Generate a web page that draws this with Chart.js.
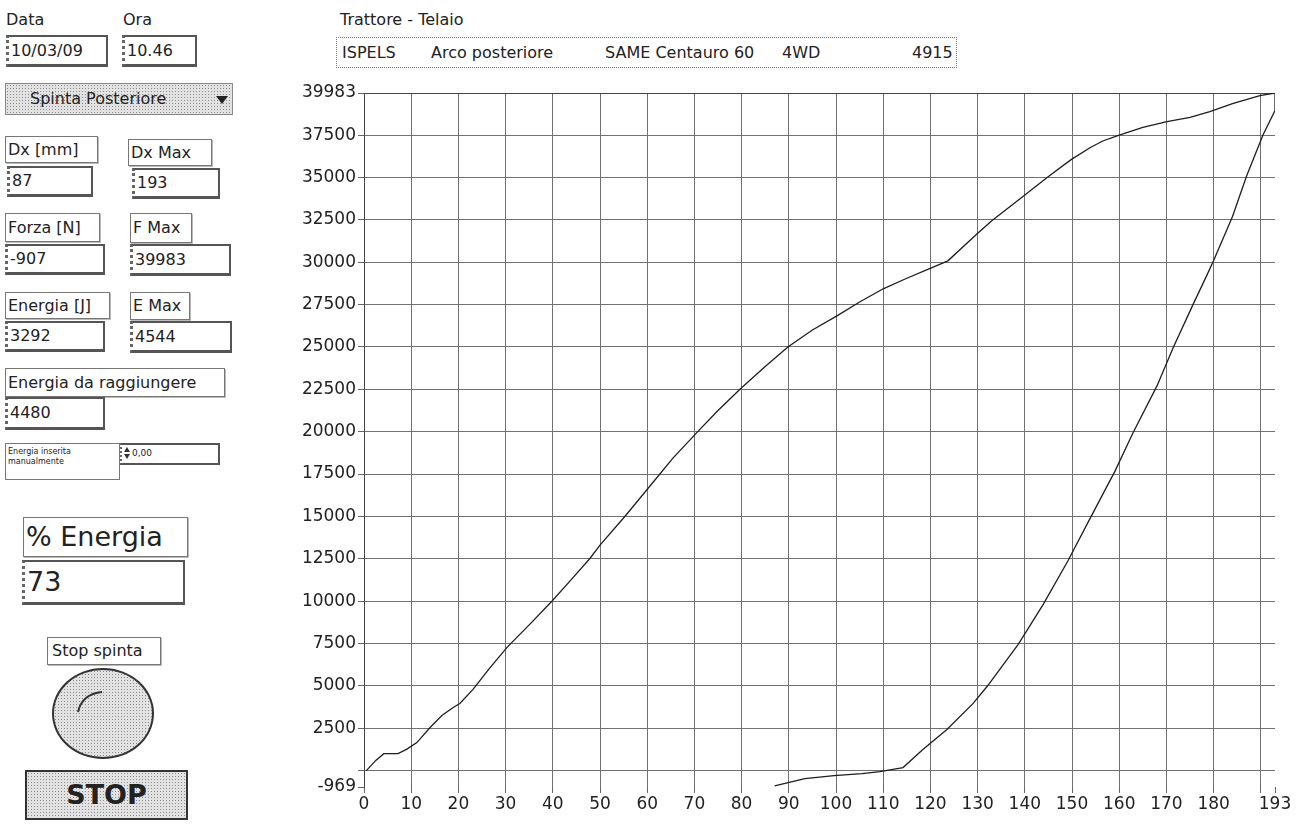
<!DOCTYPE html>
<html>
<head>
<meta charset="utf-8">
<script src="https://cdn.jsdelivr.net/npm/chart.js@4/dist/chart.umd.min.js"></script>
<style>
  body { margin: 0; background: #fff; width: 1305px; height: 824px; overflow: hidden; position: relative;
         font-family: 'DejaVu Sans', Verdana, sans-serif; color: #222; }
  .abs { position: absolute; box-sizing: border-box; white-space: nowrap; }
  .txt { font-size: 16px; }
  .lbl { border: 1px solid #777; background: #fff; font-size: 16px; padding-left: 2px; box-shadow: 1px 1px 0 #bbb; }
  .val { border: 2px solid #555; border-left: 3px dotted #666; border-bottom: 3px solid #555; background: #fff;
         font-size: 16px; padding-left: 2px; }
  .stip { background-color: #e2e2e2;
          background-image: radial-gradient(#8a8a8a 0.7px, transparent 0.9px);
          background-size: 3px 3px; }
  #chartBox { position: absolute; left: 280px; top: 80px; width: 1025px; height: 744px; }
</style>
</head>
<body>

<!-- left panel -->
<div class="abs txt" style="left:6px;top:10px;">Data</div>
<div class="abs txt" style="left:123px;top:10px;">Ora</div>
<div class="abs val" style="left:6px;top:35px;width:102px;height:32px;line-height:27px;">10/03/09</div>
<div class="abs val" style="left:122px;top:35px;width:75px;height:32px;line-height:27px;">10.46</div>

<div class="abs stip" style="left:5px;top:83px;width:228px;height:32px;border:1px solid #888;font-size:16px;line-height:30px;padding-left:24px;">Spinta Posteriore</div>
<div class="abs" style="left:216px;top:96px;width:0;height:0;border-left:6px solid transparent;border-right:6px solid transparent;border-top:8px solid #222;"></div>

<div class="abs lbl" style="left:5px;top:136px;width:93px;height:27px;line-height:25px;">Dx [mm]</div>
<div class="abs lbl" style="left:128px;top:139px;width:84px;height:27px;line-height:25px;">Dx Max</div>
<div class="abs val" style="left:7px;top:166px;width:86px;height:31px;line-height:26px;">87</div>
<div class="abs val" style="left:132px;top:168px;width:88px;height:31px;line-height:26px;">193</div>

<div class="abs lbl" style="left:5px;top:213px;width:95px;height:29px;line-height:27px;">Forza [N]</div>
<div class="abs lbl" style="left:130px;top:213px;width:62px;height:30px;line-height:28px;">F Max</div>
<div class="abs val" style="left:5px;top:244px;width:100px;height:31px;line-height:26px;">-907</div>
<div class="abs val" style="left:130px;top:244px;width:101px;height:32px;line-height:27px;">39983</div>

<div class="abs lbl" style="left:5px;top:292px;width:105px;height:27px;line-height:25px;">Energia [J]</div>
<div class="abs lbl" style="left:130px;top:292px;width:60px;height:28px;line-height:26px;">E Max</div>
<div class="abs val" style="left:5px;top:321px;width:100px;height:31px;line-height:26px;">3292</div>
<div class="abs val" style="left:130px;top:321px;width:102px;height:32px;line-height:27px;">4544</div>

<div class="abs lbl" style="left:5px;top:368px;width:220px;height:29px;line-height:27px;">Energia da raggiungere</div>
<div class="abs val" style="left:5px;top:397px;width:100px;height:33px;line-height:28px;">4480</div>

<div class="abs lbl" style="left:5px;top:443px;width:115px;height:37px;font-size:8px;line-height:10px;padding-top:3px;box-shadow:none;">Energia inserita<br>manualmente</div>
<div class="abs val" style="left:120px;top:443px;width:100px;height:22px;font-size:9px;line-height:17px;padding-left:10px;border-width:2px 2px 2px 2px;">0,00</div>
<div class="abs" style="left:124px;top:447px;width:0;height:0;border-left:3px solid transparent;border-right:3px solid transparent;border-bottom:5px solid #333;"></div>
<div class="abs" style="left:124px;top:454px;width:0;height:0;border-left:3px solid transparent;border-right:3px solid transparent;border-top:5px solid #333;"></div>

<div class="abs lbl" style="left:23px;top:517px;width:165px;height:40px;font-size:27px;line-height:38px;">% Energia</div>
<div class="abs val" style="left:22px;top:560px;width:163px;height:45px;font-size:27px;line-height:40px;">73</div>

<div class="abs lbl" style="left:47px;top:637px;width:114px;height:28px;line-height:26px;padding-left:4px;">Stop spinta</div>
<div class="abs stip" style="left:52px;top:668px;width:102px;height:91px;border:2px solid #333;border-radius:50%;"></div>
<svg class="abs" style="left:52px;top:668px;" width="102" height="91">
  <path d="M 26 44 Q 30 26 50 24" fill="none" stroke="#333" stroke-width="2"/>
</svg>
<div class="abs stip" style="left:25px;top:770px;width:163px;height:50px;border:2px solid #333;font-size:27px;font-weight:bold;line-height:46px;text-align:center;">STOP</div>

<!-- header -->
<div class="abs txt" style="left:340px;top:10px;">Trattore - Telaio</div>
<div class="abs" style="left:336px;top:37px;width:621px;height:31px;border:1px dotted #777;"></div>
<div class="abs txt" style="left:342px;top:43px;">ISPELS</div>
<div class="abs txt" style="left:431px;top:43px;">Arco posteriore</div>
<div class="abs txt" style="left:605px;top:43px;">SAME Centauro 60</div>
<div class="abs txt" style="left:782px;top:43px;">4WD</div>
<div class="abs txt" style="left:912px;top:43px;width:38px;text-align:right;">4915</div>

<div id="chartBox"><canvas id="myChart"></canvas></div>

<script>
// curve: loading (spinta) and unloading (rilascio)
const loadDx = [0.5, 2.5, 4.2, 7.2, 9, 11.2, 14, 16.5, 18.9, 20.3, 23.1, 26.5, 30.3, 35, 39.8, 44, 47.9, 50, 55.3, 61.2, 65.5, 71.2,
  75, 79.7, 85, 89.8, 95, 100.2, 105, 110, 115, 119.7, 123.7, 129.9, 133, 139.6, 145, 149.8, 153.8, 156.5, 159.7, 165, 170.1, 175,
  179.2, 184, 189.8, 193];
const loadForce = [0, 600, 1000, 1000, 1250, 1650, 2540, 3250, 3720, 3960, 4790, 6000, 7270, 8600, 9990, 11300, 12530, 13300,
  15010, 17000, 18450, 20150, 21250, 22520, 23850, 25000, 26000, 26830, 27650, 28430, 29050, 29610, 30080, 31680, 32450,
  33870, 35050, 36050, 36750, 37150, 37470, 37950, 38300, 38550, 38890, 39360, 39830, 39983];

const unloadDx = [193, 193, 190.5, 187, 184, 180, 178.6, 175.6, 171.4, 168, 162.9, 159.1, 153.8, 149.2, 143.9, 138.6, 132,
  129, 123.5, 118.4, 114.2, 109.3, 105.5, 99.6, 93.4, 87];
const unloadForce = [39983, 38950, 37530, 35100, 32700, 30100, 29250, 27480, 24940, 22700, 19920, 17670, 14870, 12410, 9810,
  7450, 4960, 3950, 2420, 1240, 180, -60, -180, -300, -470, -907];

const xTicks = [0, 10, 20, 30, 40, 50, 60, 70, 80, 90, 100, 110, 120, 130, 140, 150, 160, 170, 180, 190, 193];
const yTicks = [-969, 0, 2500, 5000, 7500, 10000, 12500, 15000, 17500, 20000, 22500, 25000, 27500, 30000, 32500, 35000, 37500, 39983];

const lineColor = '#1e1e1e';
const gridColor = '#707070';
const tickFont = { family: 'DejaVu Sans', size: 17 };

const ctx = document.getElementById('myChart').getContext('2d');

const myChart = new Chart(ctx, {
    type: 'scatter',
    data: {
        datasets: [{
            data: loadDx.map((x, i) => ({ x: x, y: loadForce[i] })),
            showLine: true,
            borderColor: lineColor,
            borderWidth: 1.3,
            pointRadius: 0,
            tension: 0,
        }, {
            data: unloadDx.map((x, i) => ({ x: x, y: unloadForce[i] })),
            showLine: true,
            borderColor: lineColor,
            borderWidth: 1.3,
            pointRadius: 0,
            tension: 0,
        }],
    },
    options: {
        responsive: true,
        maintainAspectRatio: false,
        animation: false,
        layout: {
            padding: { top: 13, right: 30, left: 0, bottom: 0 },
        },
        scales: {
            x: {
                type: 'linear',
                min: 0,
                max: 193,
                afterBuildTicks: (scale) => { scale.ticks = xTicks.map(v => ({ value: v })); },
                afterFit: (scale) => { scale.height = 37; },
                ticks: {
                    autoSkip: false,
                    maxRotation: 0,
                    color: '#222',
                    font: tickFont,
                    padding: 1,
                    callback: (v) => v === 190 ? '' : v,
                },
                grid: {
                    color: (c) => (c.tick && c.tick.value === 193) ? 'rgba(0,0,0,0)' : gridColor,
                    tickColor: '#666',
                    tickLength: 6,
                    lineWidth: 1,
                },
                border: { display: false },
            },
            y: {
                type: 'linear',
                min: -969,
                max: 39983,
                afterBuildTicks: (scale) => { scale.ticks = yTicks.map(v => ({ value: v })); },
                afterFit: (scale) => { scale.width = 84; },
                ticks: {
                    autoSkip: false,
                    color: '#222',
                    font: tickFont,
                    padding: 2,
                    callback: (v) => v === 0 ? '' : v,
                },
                grid: {
                    color: (c) => {
                        if (!c.tick) return gridColor;
                        if (c.tick.value === -969) return 'rgba(0,0,0,0)';
                        if (c.tick.value === 39983) return '#444';
                        return gridColor;
                    },
                    tickColor: '#666',
                    tickLength: 6,
                    lineWidth: 1,
                },
                border: { display: true, color: '#444', width: 1 },
            },
        },
        plugins: {
            legend: { display: false },
            tooltip: { enabled: false },
        },
    }
});
</script>
</body>
</html>
